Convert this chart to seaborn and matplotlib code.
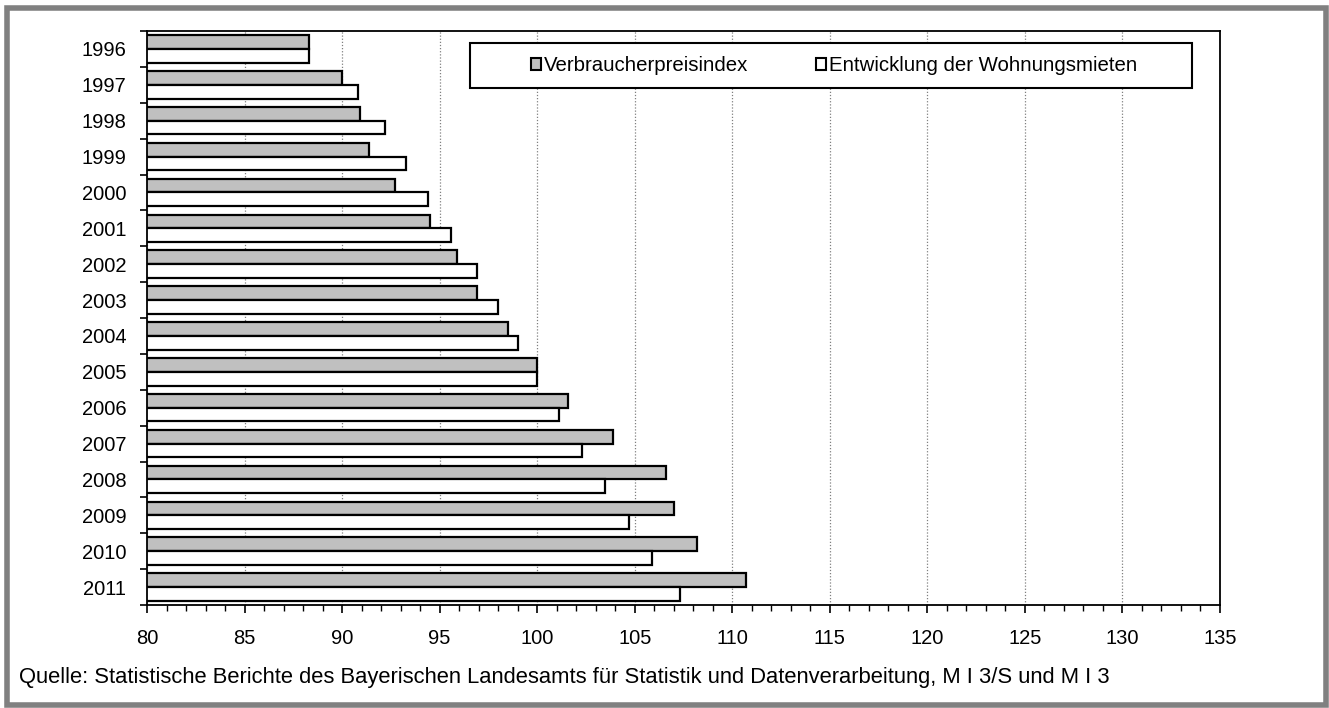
import pandas as pd
import matplotlib.pyplot as plt
import seaborn as sns
from matplotlib.patches import Rectangle, Patch
from matplotlib.ticker import MultipleLocator, FixedLocator

# --- DATA ---
jahre = [str(j) for j in range(1996, 2012)]
verbraucherpreisindex = [88.3, 90.0, 90.9, 91.4, 92.7, 94.5, 95.9, 96.9,
                         98.5, 100.0, 101.6, 103.9, 106.6, 107.0, 108.2, 110.7]
wohnungsmieten = [88.3, 90.8, 92.2, 93.3, 94.4, 95.6, 96.9, 98.0,
                  99.0, 100.0, 101.1, 102.3, 103.5, 104.7, 105.9, 107.3]
reihen = ["Verbraucherpreisindex", "Entwicklung der Wohnungsmieten"]
farben = ["#c0c0c0", "#ffffff"]
quelle = ("Quelle: Statistische Berichte des Bayerischen Landesamts für Statistik "
          "und Datenverarbeitung, M I 3/S und M I 3")

df = pd.DataFrame({
    "jahr": jahre * 2,
    "wert": verbraucherpreisindex + wohnungsmieten,
    "reihe": [reihen[0]] * len(jahre) + [reihen[1]] * len(jahre),
})

# --- STYLE ---
sns.set_style("white")
plt.rcParams["font.family"] = ["Liberation Sans", "DejaVu Sans"]
plt.rcParams["text.color"] = "black"
plt.rcParams["xtick.color"] = "black"
plt.rcParams["ytick.color"] = "black"

W, H = 1329, 708
fig = plt.figure(figsize=(W / 100, H / 100), dpi=100)
ax = fig.add_axes([147 / W, 1 - 605 / H, (1220 - 147) / W, (605 - 31) / H])

sns.barplot(data=df, x="wert", y="jahr", hue="reihe", hue_order=reihen,
            palette=farben, orient="h", width=0.77, edgecolor="black",
            linewidth=1.6, saturation=1, ax=ax, legend=False)

# x axis
ax.set_xlim(80, 135)
ax.xaxis.set_major_locator(MultipleLocator(5))
ax.xaxis.set_minor_locator(MultipleLocator(1))
ax.tick_params(axis="x", which="major", direction="out", length=6, width=1.2,
               labelsize=14.5, labelcolor="black", pad=11, bottom=True)
ax.tick_params(axis="x", which="minor", direction="out", length=4, width=1,
               bottom=True)
ax.xaxis.grid(True, which="major", linestyle=(0, (1, 1.5)), color="#808080",
              linewidth=0.9)
ax.set_axisbelow(True)

# y axis: labels at centres, ticks at category boundaries
ax.set_ylim(len(jahre) - 0.5, -0.5)
ax.yaxis.set_minor_locator(FixedLocator([i - 0.5 for i in range(len(jahre) + 1)]))
ax.tick_params(axis="y", which="major", length=0, labelsize=14.5,
               labelcolor="black", pad=15)
ax.tick_params(axis="y", which="minor", direction="out", length=5, width=1.2,
               left=True)

ax.set_xlabel("")
ax.set_ylabel("")
for s in ax.spines.values():
    s.set_visible(True)
    s.set_color("black")
    s.set_linewidth(1.3)

# legend box
box = Rectangle((470 / W, 1 - 88 / H), 722 / W, 45 / H, transform=fig.transFigure,
                facecolor="white", edgecolor="black", linewidth=1.5, zorder=5)
fig.add_artist(box)
handles = [Patch(facecolor=c, edgecolor="black", linewidth=1.5) for c in farben]
leg = fig.legend(handles, reihen, loc="center",
                 bbox_to_anchor=((470 + 364) / W, 1 - 65.5 / H), ncol=2,
                 frameon=False, fontsize=14.7, handlelength=0.5,
                 handleheight=0.5, handletextpad=0.15, columnspacing=3.3)
leg.set_zorder(6)

# source note
fig.text(19 / W, 1 - 678 / H, quelle, fontsize=15.85, va="center", ha="left")

# outer grey frame
fig.add_artist(Rectangle((6.5 / W, 3.5 / H), 1319 / W, 697 / H,
                         transform=fig.transFigure, facecolor="none",
                         edgecolor="#808080", linewidth=4))

fig.savefig("out.png", dpi=100)
